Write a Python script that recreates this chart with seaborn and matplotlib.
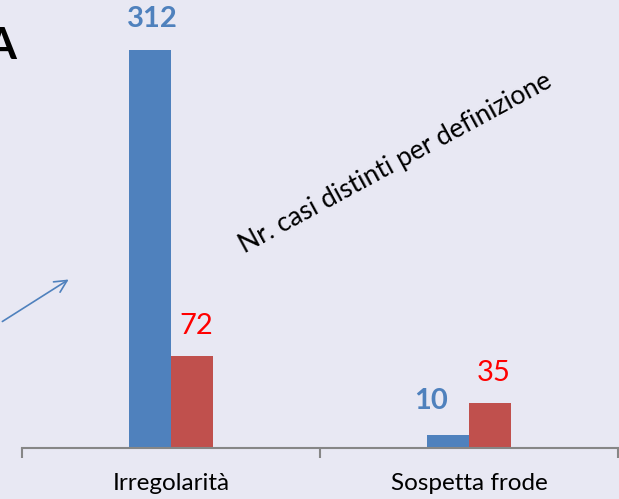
import pandas as pd
import matplotlib.pyplot as plt
import seaborn as sns

# Data
categorie = ["Irregolarità", "Sospetta frode"]
serie_1 = [312, 10]
serie_2 = [72, 35]
nomi_serie = ["Serie 1", "Serie 2"]

df = pd.DataFrame({
    "Categoria": categorie * 2,
    "Casi": serie_1 + serie_2,
    "Serie": [nomi_serie[0]] * 2 + [nomi_serie[1]] * 2,
})

bg = "#E8E8F3"
blu = "#4F81BD"
rosso = "#C0504D"

sns.set_theme(style="white")
plt.rcParams["font.family"] = ["Lato", "DejaVu Sans"]

fig = plt.figure(figsize=(6.19, 4.99), dpi=100, facecolor=bg)
ax = fig.add_axes([22 / 619, 51 / 499, 596 / 619, 448 / 499])
ax.set_facecolor(bg)

sns.barplot(data=df, x="Categoria", y="Casi", hue="Serie", order=categorie,
            palette=[blu, rosso], width=0.28, saturation=1, legend=False,
            linewidth=0, ax=ax)

ax.set_xlim(-0.5, 1.5)
ax.set_ylim(0, 351)
ax.set_xlabel("")
ax.set_ylabel("")
ax.set_yticks([])
for s in ["top", "left", "right"]:
    ax.spines[s].set_visible(False)
ax.spines["bottom"].set_color("#868686")
ax.spines["bottom"].set_linewidth(1.5)

ax.set_xticks([0, 1])
ax.set_xticklabels(categorie, fontsize=17.5, color="black")
ax.tick_params(axis="x", which="major", length=0, pad=18)
ax.set_xticks([-0.5, 0.5, 1.5], minor=True)
ax.tick_params(axis="x", which="minor", length=7, width=1.5, color="#868686", direction="out", bottom=True)

# value labels
offsets = {(0, 0): (2, 22), (0, 1): (-12, 25), (1, 0): (3, 21.5), (1, 1): (3, 22)}
for j, (vals, col, w) in enumerate([(serie_1, blu, "bold"), (serie_2, "#FF0000", "normal")]):
    for i, v in enumerate(vals):
        x = i - 0.07 + j * 0.14
        ax.annotate(str(v), xy=(x, v), xytext=offsets[(j, i)], textcoords="offset points",
                    ha="center", va="center", fontsize=21, color=col, fontweight=w)

fig.text(396 / 619, 1 - 163 / 499, "Nr. casi distinti per definizione", rotation=28.5,
         rotation_mode="anchor", ha="center", va="center", fontsize=19, color="black")

fig.text(16 / 619, 1 - 46 / 499, "A", ha="right", va="center", fontsize=32,
         fontweight="bold", color="black")

ax.annotate("", xy=(71, 499 - 278), xytext=(0, 499 - 323), xycoords="figure pixels",
            textcoords="figure pixels",
            arrowprops=dict(arrowstyle="->", color=blu, lw=1.2, mutation_scale=22))

fig.savefig("out.png", dpi=100, facecolor=bg)
